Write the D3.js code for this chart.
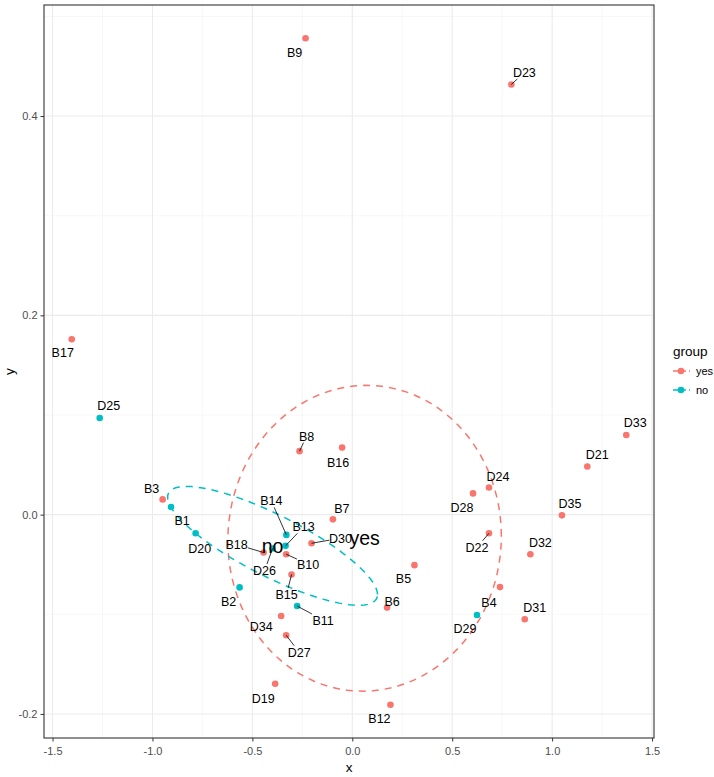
<!DOCTYPE html>
<html>
<head>
<meta charset="utf-8">
<script src="https://cdn.jsdelivr.net/npm/d3@7"></script>
<style>
  body { margin: 0; background: #fff; }
  text { font-family: "Liberation Sans", Arial, sans-serif; }
</style>
</head>
<body>
<svg id="chart" width="714" height="777"></svg>
<script>
// sample names, coordinates and group
const names = ["B1","B2","B3","B4","B5","B6","B7","B8","B9","B10","B11","B12","B13","B14","B15","B16","B17","B18",
  "D19","D20","D21","D22","D23","D24","D25","D26","D27","D28","D29","D30","D31","D32","D33","D34","D35"];
const xs = [-0.907,-0.564,-0.949,0.739,0.311,0.174,-0.097,-0.264,-0.234,-0.331,-0.276,0.191,-0.334,-0.330,-0.304,-0.051,-1.404,-0.444,
  -0.386,-0.784,1.176,0.684,0.796,0.684,-1.264,-0.399,-0.331,0.604,0.624,-0.204,0.863,0.891,1.371,-0.356,1.049];
const ys = [0.0077,-0.073,0.0153,-0.0727,-0.0507,-0.0933,-0.0047,0.0637,0.478,-0.0397,-0.0917,-0.1907,-0.0313,-0.0203,-0.060,0.0673,0.176,-0.038,
  -0.1697,-0.0187,0.0483,-0.0187,0.4317,0.0273,0.097,-0.034,-0.121,0.0213,-0.1007,-0.0287,-0.105,-0.0397,0.080,-0.1017,-0.0007];
const groups = ["no","no","yes","yes","yes","yes","yes","yes","yes","yes","no","yes","no","no","yes","yes","yes","yes",
  "yes","no","yes","yes","yes","yes","no","no","yes","yes","no","yes","yes","yes","yes","yes","yes"];
const groupNames = ["yes","no"];
const xTicks = [-1.5,-1.0,-0.5,0.0,0.5,1.0,1.5];
const yTicks = [-0.2,0.0,0.2,0.4];

// label placement (pixel offsets from the point, like ggrepel put them)
const labelOff = {
  B1:[11,14], B2:[-11,14], B3:[-11,-11], B4:[-11,15], B5:[-11,13], B6:[5,-6], B7:[9,-11], B8:[7,-15], B9:[-11,14],
  B10:[22,10], B11:[26,14], B12:[-11,14], B13:[18,-19], B14:[-15,-34], B15:[-5,20], B16:[-4,15], B17:[-9,13], B18:[-27,-8],
  D19:[-12,15], D20:[4,15], D21:[10,-12], D22:[-12,14], D23:[13,-12], D24:[9,-11], D25:[9,-12], D26:[-8,22], D27:[13,17],
  D28:[-11,14], D29:[-12,14], D30:[29,-5], D31:[10,-12], D32:[10,-12], D33:[9,-12], D34:[-20,11], D35:[8,-12]
};
const withSegment = ["B8","B10","B11","B13","B14","B15","B18","D22","D23","D26","D27","D30"];

const colors = d3.scaleOrdinal().domain(groupNames).range(["#F8766D","#00BFC4"]);

var svg = d3.select("#chart"),
  margin = {top: 5, right: 60, bottom: 39, left: 44},
  width = 714 - margin.left - margin.right,
  height = 777 - margin.top - margin.bottom;

const data = names.map((n, i) => ({name: n, x: xs[i], y: ys[i], group: groups[i]}));

// ggplot style 5% expansion
const xr = d3.extent(xs), yr = d3.extent(ys);
const xe = (xr[1] - xr[0]) * 0.05, ye = (yr[1] - yr[0]) * 0.05;
var x = d3.scaleLinear().domain([xr[0] - xe, xr[1] + xe]).range([0, width]);
var y = d3.scaleLinear().domain([yr[0] - ye, yr[1] + ye]).range([height, 0]);

var g = svg.append("g").attr("transform", "translate(" + margin.left + "," + margin.top + ")");

// minor grid
const xMinor = d3.range(-1.25, 1.5, 0.5);
const yMinor = d3.range(-0.1, 0.55, 0.2);
g.selectAll(".xminor").data(xMinor).enter().append("line")
  .attr("x1", d => x(d)).attr("x2", d => x(d)).attr("y1", 0).attr("y2", height)
  .attr("stroke", "#f2f2f2").attr("stroke-width", 0.6);
g.selectAll(".yminor").data(yMinor).enter().append("line")
  .attr("y1", d => y(d)).attr("y2", d => y(d)).attr("x1", 0).attr("x2", width)
  .attr("stroke", "#f2f2f2").attr("stroke-width", 0.6);
// major grid
g.selectAll(".xmajor").data(xTicks).enter().append("line")
  .attr("x1", d => x(d)).attr("x2", d => x(d)).attr("y1", 0).attr("y2", height)
  .attr("stroke", "#ebebeb").attr("stroke-width", 1.1);
g.selectAll(".ymajor").data(yTicks).enter().append("line")
  .attr("y1", d => y(d)).attr("y2", d => y(d)).attr("x1", 0).attr("x2", width)
  .attr("stroke", "#ebebeb").attr("stroke-width", 1.1);

// 1-sd ellipse around the group median (sample covariance)
function ellipse(pts) {
  const n = pts.length;
  const mx = d3.mean(pts, d => d[0]), my = d3.mean(pts, d => d[1]);
  const sxx = d3.sum(pts, d => (d[0] - mx) ** 2) / (n - 1);
  const sxy = d3.sum(pts, d => (d[0] - mx) * (d[1] - my)) / (n - 1);
  const syy = d3.sum(pts, d => (d[1] - my) ** 2) / (n - 1);
  const c = [d3.median(pts, d => d[0]), d3.median(pts, d => d[1])];
  const ra = Math.sqrt(sxx), rb = sxy / ra, rc = Math.sqrt(syy - rb * rb);
  const out = d3.range(0, 101).map(k => {
    const a = k * 2 * Math.PI / 100;
    return [c[0] + Math.cos(a) * ra, c[1] + Math.cos(a) * rb + Math.sin(a) * rc];
  });
  return {center: c, path: out};
}

const ells = groupNames.map(gn => {
  const e = ellipse(data.filter(d => d.group === gn).map(d => [d.x, d.y]));
  e.group = gn;
  return e;
});

var line = d3.line().x(d => x(d[0])).y(d => y(d[1]));
g.selectAll(".ell").data(ells).enter().append("path")
  .attr("d", d => line(d.path))
  .attr("fill", "none")
  .attr("stroke", d => colors(d.group))
  .attr("stroke-width", 1.5)
  .attr("stroke-dasharray", "7,6");

// points
g.selectAll(".pt").data(data).enter().append("circle")
  .attr("cx", d => x(d.x)).attr("cy", d => y(d.y)).attr("r", 3.3)
  .attr("fill", d => colors(d.group));

// repel-like labels
const lab = data.map(d => {
  const o = labelOff[d.name];
  return {d: d, px: x(d.x), py: y(d.y), lx: x(d.x) + o[0], ly: y(d.y) + o[1]};
});
lab.filter(l => withSegment.indexOf(l.d.name) >= 0).forEach(l => {
  const hw = l.d.name.length * 3.4 + 1, hh = 6.5;
  const dx = l.px - l.lx, dy = l.py - l.ly;
  const s = Math.min(hw / Math.abs(dx || 1e-9), hh / Math.abs(dy || 1e-9));
  g.append("line")
    .attr("x1", l.px).attr("y1", l.py)
    .attr("x2", l.lx + dx * s).attr("y2", l.ly + dy * s)
    .attr("stroke", "#000").attr("stroke-width", 0.8);
});
g.selectAll(".lab").data(lab).enter().append("text")
  .attr("x", l => l.lx).attr("y", l => l.ly)
  .attr("dy", "0.36em")
  .attr("text-anchor", "middle")
  .attr("font-size", 12.5)
  .attr("fill", "#000")
  .text(l => l.d.name);

// group labels at the medians
g.selectAll(".glab").data(ells).enter().append("text")
  .attr("x", d => x(d.center[0])).attr("y", d => y(d.center[1]))
  .attr("dy", "0.36em")
  .attr("text-anchor", "middle")
  .attr("font-size", 19.5)
  .attr("fill", "#000")
  .text(d => d.group);

// panel border
g.append("rect").attr("width", width).attr("height", height)
  .attr("fill", "none").attr("stroke", "#333").attr("stroke-width", 1.1);

// axes
const fmt = d => d3.format(".1f")(d).replace("−", "-");
const xa = g.append("g").attr("transform", "translate(0," + height + ")")
  .call(d3.axisBottom(x).tickValues(xTicks).tickFormat(fmt).tickSize(3.5).tickSizeOuter(0));
const ya = g.append("g")
  .call(d3.axisLeft(y).tickValues(yTicks).tickFormat(fmt).tickSize(3.5).tickSizeOuter(0));
[xa, ya].forEach(a => {
  a.select(".domain").remove();
  a.selectAll("line").attr("stroke", "#333");
  a.selectAll("text").attr("fill", "#4d4d4d").attr("font-size", 11)
    .style("font-family", "Liberation Sans, Arial, sans-serif");
});
xa.selectAll("text").attr("dy", "0.95em");

svg.append("text").attr("x", margin.left + width / 2).attr("y", 772)
  .attr("text-anchor", "middle").attr("font-size", 13.5).text("x");
svg.append("text").attr("transform", "translate(14," + (margin.top + height / 2) + ") rotate(-90)")
  .attr("text-anchor", "middle").attr("font-size", 13.5).text("y");

// legend
const leg = svg.append("g").attr("transform", "translate(672,340)");
leg.append("text").attr("x", 1).attr("y", 16).attr("font-size", 13.5).text("group");
const items = leg.selectAll(".key").data(groupNames).enter().append("g")
  .attr("transform", (d, i) => "translate(0," + (31 + i * 19) + ")");
items.append("line").attr("x1", 1).attr("x2", 18).attr("y1", 0).attr("y2", 0)
  .attr("stroke", d => colors(d)).attr("stroke-width", 1.5).attr("stroke-dasharray", "5,3");
items.append("circle").attr("cx", 9).attr("cy", 0).attr("r", 3.3).attr("fill", d => colors(d));
items.append("text").attr("x", 24).attr("y", 0).attr("dy", "0.36em").attr("font-size", 11).text(d => d);
</script>
</body>
</html>
